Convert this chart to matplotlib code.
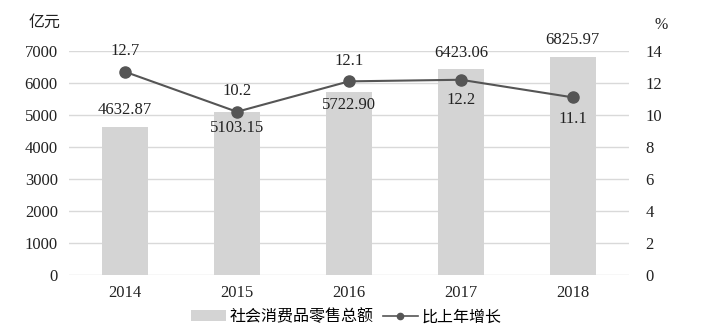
import matplotlib.pyplot as plt
import numpy as np

plt.rcParams['font.family'] = ['Liberation Serif', 'Noto Sans CJK SC']

years = ['2014', '2015', '2016', '2017', '2018']
sales = [4632.87, 5103.15, 5722.90, 6423.06, 6825.97]
growth = [12.7, 10.2, 12.1, 12.2, 11.1]
sales_labels = ['4632.87', '5103.15', '5722.90', '6423.06', '6825.97']
growth_labels = ['12.7', '10.2', '12.1', '12.2', '11.1']

fig = plt.figure(figsize=(7.06, 3.33), dpi=100)
ax = fig.add_axes([0.0977, 0.174, 0.793, 0.673])
ax2 = ax.twinx()

x = np.arange(len(years))
bars = ax.bar(x, sales, width=0.41, color='#d4d4d4', zorder=2, label='社会消费品零售总额')
ax.set_xlim(-0.5, 4.5)
ax.set_ylim(0, 7000)
ax.set_yticks(range(0, 7001, 1000))
ax.set_xticks(x)
ax.set_xticklabels(years)
ax.grid(axis='y', color='#d9d9d9', linewidth=1, zorder=0)
ax.set_axisbelow(True)

line, = ax2.plot(x, growth, color='#555555', marker='o', markersize=8, linewidth=1.5,
                 label='比上年增长', zorder=3)
ax2.set_ylim(0, 14)
ax2.set_yticks(range(0, 15, 2))

for a in (ax, ax2):
    for s in a.spines.values():
        s.set_visible(False)
    a.tick_params(length=0, labelsize=12, colors='#222222')
ax.tick_params(axis='y', pad=8)
ax2.tick_params(axis='y', pad=12)
ax.tick_params(axis='x', pad=7)

# bar value labels (above or inside the bar top)
bar_off = [6, -6, -4, 6, 6]
for i, (v, t) in enumerate(zip(sales, sales_labels)):
    va = 'bottom' if bar_off[i] > 0 else 'top'
    ax.annotate(t, (x[i], v), xytext=(0, bar_off[i]), textcoords='offset points',
                ha='center', va=va, fontsize=12, color='#222222')

# growth labels
line_off = [9, 9, 9, -9, -10]
for i, (v, t) in enumerate(zip(growth, growth_labels)):
    va = 'bottom' if line_off[i] > 0 else 'top'
    ax2.annotate(t, (x[i], v), xytext=(0, line_off[i]), textcoords='offset points',
                 ha='center', va=va, fontsize=12, color='#222222')

fig.text(0.04, 0.934, '亿元', fontsize=11.5, color='#222222', va='center',
         family=['Noto Sans CJK SC'])
fig.text(0.937, 0.925, '%', fontsize=11.5, color='#222222', va='center', ha='center')

leg = fig.legend([bars, line], ['社会消费品零售总额', '比上年增长'], loc='lower center',
                 bbox_to_anchor=(0.49, -0.02), ncol=2, frameon=False,
                 handlelength=2.2, columnspacing=0.6, handletextpad=0.2,
                 prop={'family': ['Noto Sans CJK SC'], 'size': 11.5})
for h in leg.legend_handles:
    if hasattr(h, 'set_markersize'):
        h.set_markersize(4.5)
    if hasattr(h, 'set_linewidth') and hasattr(h, 'set_markersize'):
        h.set_linewidth(1.2)

fig.savefig('out.png', dpi=100)
